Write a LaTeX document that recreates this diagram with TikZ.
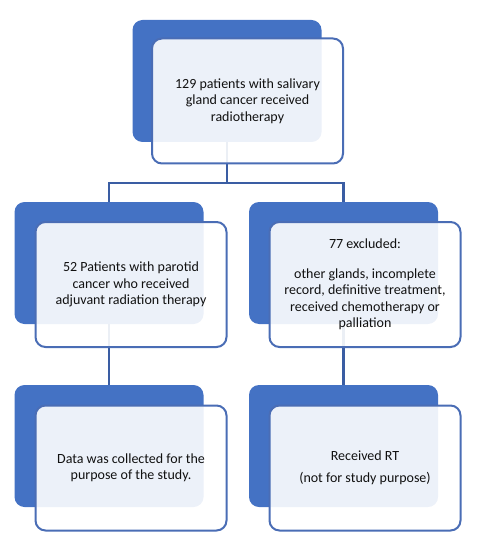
\documentclass[tikz,border=0pt]{standalone}
\usepackage{fontspec}
\setmainfont{Carlito}
\usetikzlibrary{positioning}
\definecolor{boxblue}{HTML}{4472C4}
\definecolor{rimblue}{HTML}{4A6DB5}
\definecolor{linkblue}{HTML}{3A5DA3}
\definecolor{ink}{HTML}{111111}
\tikzset{
  every node/.style={font=\fontsize{14}{16.5}\selectfont, text=ink},
  backbox/.style={rectangle, rounded corners=10pt, fill=boxblue, minimum width=189pt, minimum height=122pt, inner sep=0pt},
  frontbox/.style={rectangle, rounded corners=10pt, draw=rimblue, line width=2pt, fill=white, fill opacity=0.9, text opacity=1, minimum width=191pt, minimum height=125pt, align=center, inner sep=0pt},
  link/.style={draw=linkblue, line width=2.6pt},
}
\begin{document}
\begin{tikzpicture}[x=1pt,y=-1pt]
\useasboundingbox (0,0) rectangle (478,553);
% back plates
\node[backbox] (topback) at (227,81) {};
\node[backbox] (parback) at (109,263) {};
\node[backbox] (excback) at (343.5,263) {};
\node[backbox] (databack) at (109,446) {};
\node[backbox] (rtback) at (343.5,446) {};
% connectors
\coordinate (split) at (227,183);
\draw[link] (topback) -- (split);
\draw[link] (split) -| (parback.north);
\draw[link] (split) -| (excback.north);
\draw[link] (parback) -- (databack);
\draw[link] (excback) -- (rtback);
% front cards
\node[frontbox, xshift=20.5pt, yshift=-20pt] (top) at (topback) {129 patients with salivary\\gland cancer received\\radiotherapy};
\node[frontbox, xshift=22pt, yshift=-21.5pt] (par) at (parback) {52 Patients with parotid\\cancer who received\\adjuvant radiation therapy};
\node[frontbox, xshift=21.5pt, yshift=-21.5pt] (exc) at (excback) {77 excluded:\\[13pt]other glands, incomplete\\record, definitive treatment,\\received chemotherapy or\\palliation};
\node[frontbox, xshift=22pt, yshift=-22pt] (data) at (databack) {Data was collected for the\\purpose of the study.};
\node[frontbox, xshift=21.5pt, yshift=-22pt] (rt) at (rtback) {Received RT\\[5.5pt](not for study purpose)};
\end{tikzpicture}
\end{document}
